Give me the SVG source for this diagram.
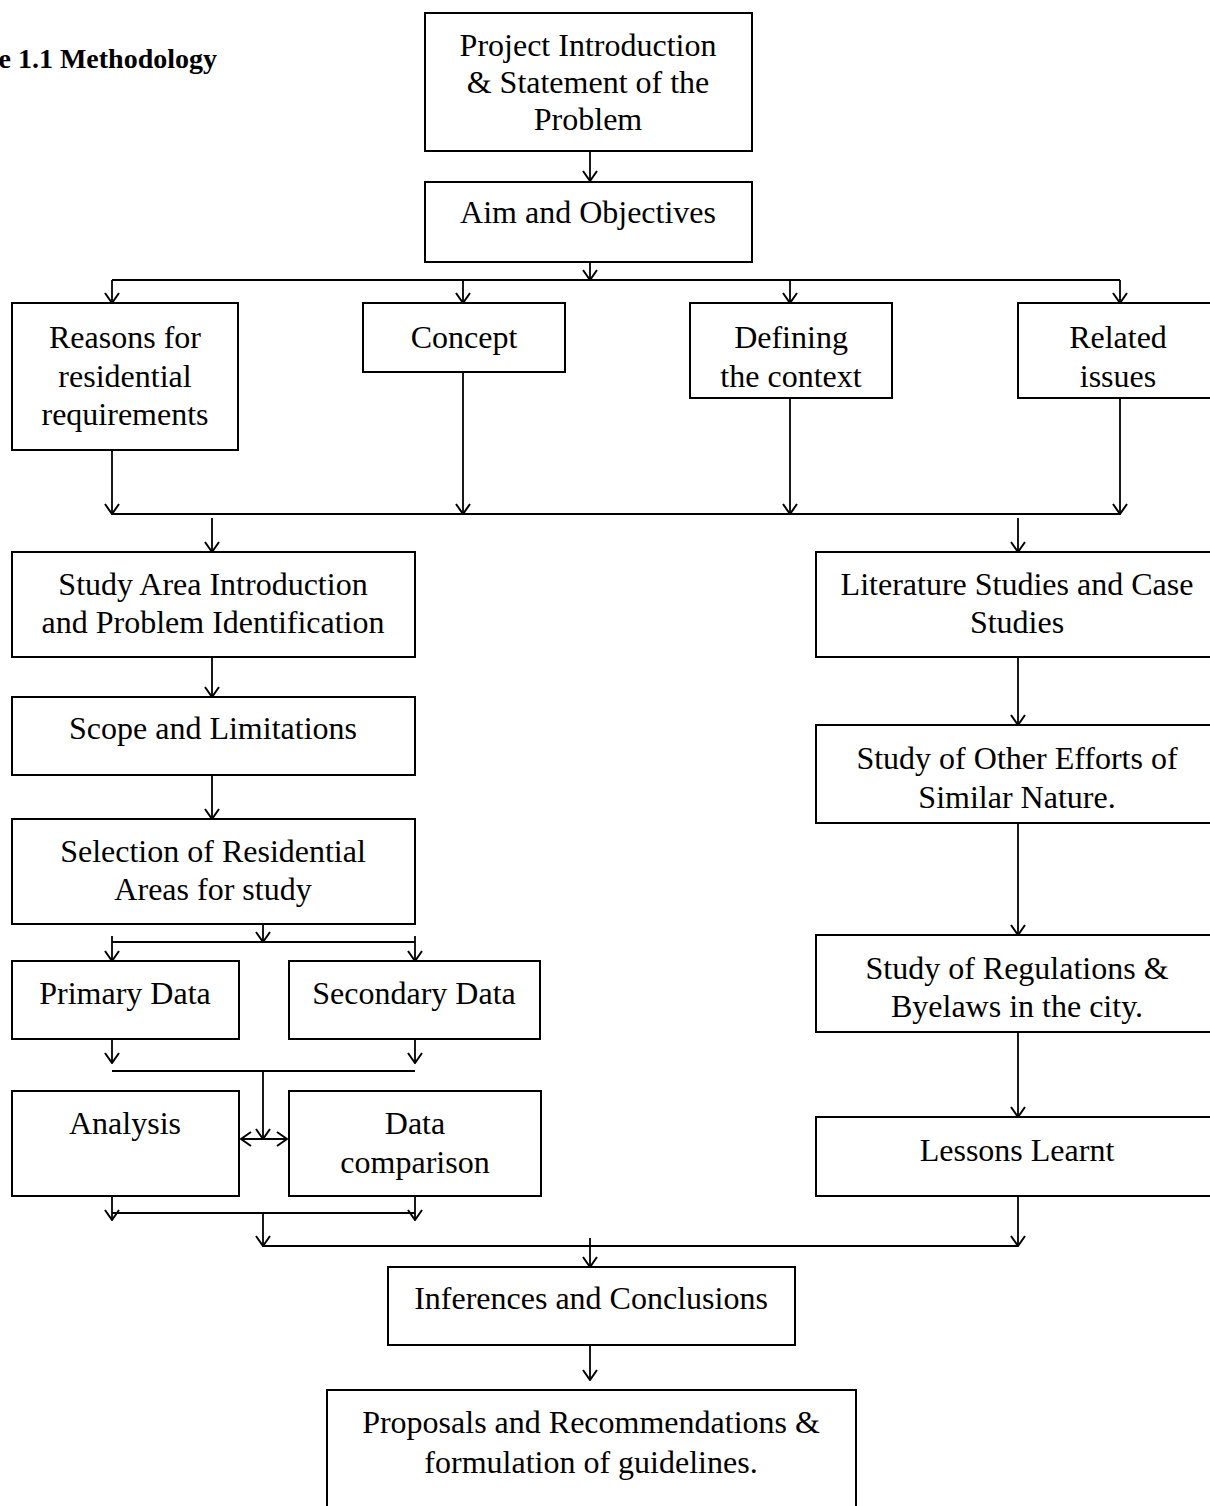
<svg xmlns="http://www.w3.org/2000/svg" width="1210" height="1506" viewBox="0 0 1210 1506">
<style>
.box{fill:#fff;stroke:#000;stroke-width:2}
.lbl{font-family:"Liberation Serif","Times New Roman",serif;font-size:32px;fill:#000;text-anchor:middle}
.title{font-family:"Liberation Serif","Times New Roman",serif;font-size:28px;font-weight:bold;fill:#000;text-anchor:end}
.cn{fill:none;stroke:#000;stroke-width:1.8}
.ar{marker-end:url(#ah)}
</style>
<defs>
<marker id="ah" viewBox="0 0 12 16" markerWidth="12" markerHeight="16" refX="11" refY="8" orient="auto-start-reverse" markerUnits="userSpaceOnUse">
<path d="M1,1 L11,8 L1,15" fill="none" stroke="#000" stroke-width="2"/>
</marker>
</defs>
<rect width="1210" height="1506" fill="#fff"/>
<text class="title" x="217" y="68">e 1.1 Methodology</text>

<g id="connectors">
<path class="cn ar" d="M590,151 V181"/>
<path class="cn ar" d="M590,262 V280"/>
<path class="cn" d="M112,280 H1120"/>
<path class="cn ar" d="M112,280 V303"/>
<path class="cn ar" d="M463,280 V303"/>
<path class="cn ar" d="M790,280 V303"/>
<path class="cn ar" d="M1120,280 V303"/>
<path class="cn ar" d="M112,450 V514"/>
<path class="cn ar" d="M463,372 V514"/>
<path class="cn ar" d="M790,398 V514"/>
<path class="cn ar" d="M1120,398 V514"/>
<path class="cn" d="M112,514 H1120"/>
<path class="cn ar" d="M212,518 V552"/>
<path class="cn ar" d="M1018,518 V552"/>
<path class="cn ar" d="M212,657 V697"/>
<path class="cn ar" d="M212,775 V819"/>
<path class="cn ar" d="M1018,657 V725"/>
<path class="cn ar" d="M1018,823 V935"/>
<path class="cn ar" d="M1018,1032 V1117"/>
<path class="cn ar" d="M263,924 V942"/>
<path class="cn" d="M112,942 H415"/>
<path class="cn ar" d="M112,936 V961"/>
<path class="cn ar" d="M415,936 V961"/>
<path class="cn ar" d="M112,1039 V1063"/>
<path class="cn ar" d="M415,1039 V1063"/>
<path class="cn" d="M112,1071 H415"/>
<path class="cn ar" d="M263,1071 V1139"/>
<path class="cn ar" d="M241,1139 H287" marker-start="url(#ah)"/>
<path class="cn ar" d="M112,1196 V1220"/>
<path class="cn ar" d="M415,1196 V1220"/>
<path class="cn" d="M112,1213 H415"/>
<path class="cn ar" d="M263,1213 V1246"/>
<path class="cn" d="M263,1246 H1018"/>
<path class="cn ar" d="M1018,1196 V1246"/>
<path class="cn ar" d="M590,1238 V1267"/>
<path class="cn ar" d="M590,1345 V1380"/>
</g>

<g id="n-project">
<rect class="box" x="425" y="13" width="327" height="138"/>
<text class="lbl" x="588" y="56">Project Introduction</text>
<text class="lbl" x="588" y="93">&amp; Statement of the</text>
<text class="lbl" x="588" y="130">Problem</text>
</g>
<g id="n-aim">
<rect class="box" x="425" y="182" width="327" height="80"/>
<text class="lbl" x="588" y="223">Aim and Objectives</text>
</g>
<g id="n-reasons">
<rect class="box" x="12" y="303" width="226" height="147"/>
<text class="lbl" x="125" y="348">Reasons for</text>
<text class="lbl" x="125" y="387">residential</text>
<text class="lbl" x="125" y="425">requirements</text>
</g>
<g id="n-concept">
<rect class="box" x="363" y="303" width="202" height="69"/>
<text class="lbl" x="464" y="348">Concept</text>
</g>
<g id="n-defining">
<rect class="box" x="690" y="303" width="202" height="95"/>
<text class="lbl" x="791" y="348">Defining</text>
<text class="lbl" x="791" y="387">the context</text>
</g>
<g id="n-related">
<rect class="box" x="1018" y="303" width="210" height="95"/>
<text class="lbl" x="1118" y="348">Related</text>
<text class="lbl" x="1118" y="387">issues</text>
</g>
<g id="n-studyarea">
<rect class="box" x="12" y="552" width="403" height="105"/>
<text class="lbl" x="213" y="595">Study Area Introduction</text>
<text class="lbl" x="213" y="633">and Problem Identification</text>
</g>
<g id="n-scope">
<rect class="box" x="12" y="697" width="403" height="78"/>
<text class="lbl" x="213" y="739">Scope and Limitations</text>
</g>
<g id="n-selection">
<rect class="box" x="12" y="819" width="403" height="105"/>
<text class="lbl" x="213" y="862">Selection of Residential</text>
<text class="lbl" x="213" y="900">Areas for study</text>
</g>
<g id="n-primary">
<rect class="box" x="12" y="961" width="227" height="78"/>
<text class="lbl" x="125" y="1004">Primary Data</text>
</g>
<g id="n-secondary">
<rect class="box" x="289" y="961" width="251" height="78"/>
<text class="lbl" x="414" y="1004">Secondary Data</text>
</g>
<g id="n-analysis">
<rect class="box" x="12" y="1091" width="227" height="105"/>
<text class="lbl" x="125" y="1134">Analysis</text>
</g>
<g id="n-comparison">
<rect class="box" x="289" y="1091" width="252" height="105"/>
<text class="lbl" x="415" y="1134">Data</text>
<text class="lbl" x="415" y="1173">comparison</text>
</g>
<g id="n-literature">
<rect class="box" x="816" y="552" width="410" height="105"/>
<text class="lbl" x="1017" y="595">Literature Studies and Case</text>
<text class="lbl" x="1017" y="633">Studies</text>
</g>
<g id="n-efforts">
<rect class="box" x="816" y="725" width="410" height="98"/>
<text class="lbl" x="1017" y="769">Study of Other Efforts of</text>
<text class="lbl" x="1017" y="808">Similar Nature.</text>
</g>
<g id="n-regulations">
<rect class="box" x="816" y="935" width="410" height="97"/>
<text class="lbl" x="1017" y="979">Study of Regulations &amp;</text>
<text class="lbl" x="1017" y="1017">Byelaws in the city.</text>
</g>
<g id="n-lessons">
<rect class="box" x="816" y="1117" width="410" height="79"/>
<text class="lbl" x="1017" y="1161">Lessons Learnt</text>
</g>
<g id="n-inferences">
<rect class="box" x="388" y="1267" width="407" height="78"/>
<text class="lbl" x="591" y="1309">Inferences and Conclusions</text>
</g>
<g id="n-proposals">
<rect class="box" x="327" y="1390" width="529" height="130"/>
<text class="lbl" x="591" y="1433">Proposals and Recommendations &amp;</text>
<text class="lbl" x="591" y="1473">formulation of guidelines.</text>
</g>
</svg>
